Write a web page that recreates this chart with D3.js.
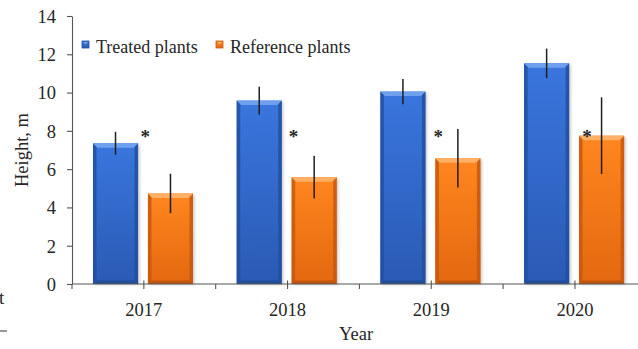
<!DOCTYPE html>
<html>
<head>
<meta charset="utf-8">
<script src="https://cdn.jsdelivr.net/npm/d3@7/dist/d3.min.js"></script>
<style>
  html, body { margin: 0; padding: 0; background: #fff; }
  svg { display: block; }
  svg text { font-family: "Liberation Serif", "Times New Roman", serif !important; fill: #262626; }
</style>
</head>
<body>
<svg id="chart" width="638" height="349"></svg>
<script>
// Mean tree height per year, with error (± half-length of the bar)
const years = ["2017", "2018", "2019", "2020"];
const seriesNames = ["Treated plants", "Reference plants"];
const treatedHeight = [7.35, 9.58, 10.05, 11.53];
const treatedError = [0.6, 0.72, 0.66, 0.77];
const referenceHeight = [4.73, 5.58, 6.57, 7.75];
const referenceError = [1.03, 1.12, 1.53, 2.0];
const yTicks = [0, 2, 4, 6, 8, 10, 12, 14];
const significantYears = ["2017", "2018", "2019", "2020"];

// layout
const W = 638, H = 349;
const x0 = 72, groupStep = 143.7;
const yTop = 16, yBase = 284;
const starLevel = 7.9;
const starNudge = [1.5, 6, 7, 12];

const svg = d3.select("#chart");
const defs = svg.append("defs");

const x = d3.scaleBand().domain(years).range([x0, x0 + groupStep * years.length]).padding(0);
const xs = d3.scaleBand().domain(seriesNames).range([21, 121]).paddingInner(0.18).paddingOuter(0);
const y = d3.scaleLinear().domain([0, 14]).range([yBase, yTop]);

const palette = {
  "Treated plants": { top: "#3a76de", bottom: "#2a5ab4", bevel: "#6ea0ee", edge: "#224f9f", foot: "#1f4a95" },
  "Reference plants": { top: "#ff861f", bottom: "#e3680f", bevel: "#ffb064", edge: "#c8570e", foot: "#b9500c" }
};

// gradients for the bevelled bars
seriesNames.forEach((s, i) => {
  const c = palette[s];
  const g = defs.append("linearGradient").attr("id", "body" + i).attr("x1", 0).attr("y1", 0).attr("x2", 0).attr("y2", 1);
  g.append("stop").attr("offset", "0%").attr("stop-color", c.top);
  g.append("stop").attr("offset", "100%").attr("stop-color", c.bottom);
});
const blur = defs.append("filter").attr("id", "shadow").attr("x", "-20%").attr("y", "-20%").attr("width", "140%").attr("height", "140%");
blur.append("feGaussianBlur").attr("stdDeviation", 1.6);

// y axis
const yAxis = d3.axisLeft(y).tickValues(yTicks).tickSize(5).tickSizeOuter(0).tickPadding(11);
const gy = svg.append("g").attr("transform", `translate(${x0},0)`).call(yAxis)
  .attr("font-family", "Liberation Serif").attr("font-size", 18.5);
gy.select(".domain").attr("stroke", "#555").attr("stroke-width", 1.1);
gy.selectAll(".tick line").attr("stroke", "#555").attr("stroke-width", 1.1);
gy.selectAll(".tick text").attr("fill", "#262626").attr("dy", "0.34em")
  .style("font-size", "18.5px");

// bars
const rows = [];
years.forEach((yr, i) => {
  rows.push({ year: yr, s: seriesNames[0], si: 0, v: treatedHeight[i], e: treatedError[i] });
  rows.push({ year: yr, s: seriesNames[1], si: 1, v: referenceHeight[i], e: referenceError[i] });
});

const bars = svg.append("g").selectAll("g.bar").data(rows).join("g").attr("class", "bar")
  .attr("transform", d => `translate(${x(d.year) + xs(d.s)},0)`);
const bw = xs.bandwidth();

bars.append("rect").attr("x", 1.5).attr("y", d => y(d.v) + 1.5)
  .attr("width", bw).attr("height", d => yBase - y(d.v) - 1)
  .attr("fill", "#9a9a9a").attr("opacity", 0.55).attr("filter", "url(#shadow)");
bars.append("rect").attr("x", 0).attr("y", d => y(d.v))
  .attr("width", bw).attr("height", d => yBase - y(d.v))
  .attr("fill", d => `url(#body${d.si})`);
// side and foot bevels
const bev = 3.5;
bars.append("path").attr("fill", d => palette[d.s].edge).attr("opacity", 0.85)
  .attr("d", d => { const t = y(d.v); return `M0,${t}L${bev},${t + bev}L${bev},${yBase - bev}L0,${yBase}Z`; });
bars.append("path").attr("fill", d => palette[d.s].edge).attr("opacity", 0.85)
  .attr("d", d => { const t = y(d.v); return `M${bw},${t}L${bw - bev},${t + bev}L${bw - bev},${yBase - bev}L${bw},${yBase}Z`; });
bars.append("path").attr("fill", d => palette[d.s].foot).attr("opacity", 0.8)
  .attr("d", d => `M0,${yBase}L${bev},${yBase - bev}L${bw - bev},${yBase - bev}L${bw},${yBase}Z`);
bars.append("path").attr("fill", d => palette[d.s].bevel)
  .attr("d", d => { const t = y(d.v); return `M0,${t}L${bw},${t}L${bw - bev - 1},${t + bev + 1}L${bev + 1},${t + bev + 1}Z`; });

// error bars
bars.append("line").attr("x1", bw / 2).attr("x2", bw / 2)
  .attr("y1", d => y(d.v + d.e)).attr("y2", d => y(d.v - d.e))
  .attr("stroke", "#1e1e1e").attr("stroke-width", 1.5);

// x axis: boundary ticks below, centre ticks crossing the line
const gx = svg.append("g");
gx.append("line").attr("x1", x0).attr("x2", W).attr("y1", yBase).attr("y2", yBase)
  .attr("stroke", "#555").attr("stroke-width", 1.1);
const bounds = years.map(d => x(d)).concat([x(years[years.length - 1]) + x.bandwidth()]);
gx.selectAll("line.b").data(bounds).join("line").attr("class", "b")
  .attr("x1", d => d).attr("x2", d => d).attr("y1", yBase).attr("y2", yBase + 5)
  .attr("stroke", "#555").attr("stroke-width", 1.1);
gx.selectAll("line.c").data(years).join("line").attr("class", "c")
  .attr("x1", d => x(d) + x.bandwidth() / 2).attr("x2", d => x(d) + x.bandwidth() / 2)
  .attr("y1", yBase - 3.5).attr("y2", yBase + 5)
  .attr("stroke", "#555").attr("stroke-width", 1.1);
gx.selectAll("text").data(years).join("text")
  .attr("x", d => x(d) + x.bandwidth() / 2).attr("y", 315.5)
  .attr("text-anchor", "middle").style("font-size", "18.5px").text(d => d);

// significance marks
svg.append("g").selectAll("text").data(significantYears).join("text")
  .attr("x", (d, i) => x(d) + x.bandwidth() / 2 + starNudge[i])
  .attr("y", y(starLevel) + 10)
  .attr("text-anchor", "middle").style("font-size", "19px").style("font-weight", "bold")
  .attr("fill", "#333").text("*");

// axis titles
svg.append("text").attr("transform", "translate(28,150) rotate(-90)")
  .attr("text-anchor", "middle").style("font-size", "18.5px").text("Height, m");
svg.append("text").attr("x", 356).attr("y", 340).attr("text-anchor", "middle")
  .style("font-size", "18.5px").text("Year");

// legend
const legend = svg.append("g");
const legendX = [82, 216];
seriesNames.forEach((s, i) => {
  const c = palette[s];
  legend.append("rect").attr("x", legendX[i]).attr("y", 41).attr("width", 7).attr("height", 7)
    .attr("fill", `url(#body${i})`).attr("stroke", c.edge).attr("stroke-width", 0.8);
  legend.append("path").attr("d", `M${legendX[i] + 1},${42}L${legendX[i] + 6},${42}L${legendX[i] + 3.5},${44.5}Z`)
    .attr("fill", c.bevel);
  legend.append("text").attr("x", legendX[i] + 14).attr("y", 52.5).style("font-size", "18px").text(s);
});

// clipped text fragments at the left edge
svg.append("text").attr("x", -1).attr("y", 304).style("font-size", "19px").text("t");
svg.append("line").attr("x1", 0).attr("x2", 7).attr("y1", 331).attr("y2", 331)
  .attr("stroke", "#333").attr("stroke-width", 1);
</script>
</body>
</html>
